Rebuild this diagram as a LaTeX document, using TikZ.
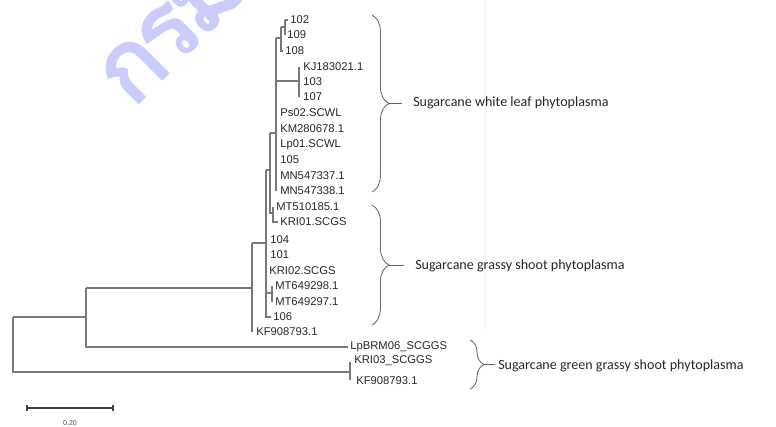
\documentclass[tikz,border=0pt]{standalone}
\usepackage{fontspec}
\setmainfont{Liberation Sans}
\newfontfamily\cladefont{Carlito}
\newfontfamily\thaifont[Script=Thai,LetterSpace=-8]{Loma}
\usetikzlibrary{decorations.pathreplacing}
\definecolor{branchgray}{RGB}{120,120,120}
\definecolor{markblue}{RGB}{204,204,250}
\tikzset{
  branch/.style     = {draw=branchgray, line width=0.8pt},
  tip/.style        = {anchor=west, inner sep=1.4pt, font=\fontsize{8}{9}\selectfont, text=black!85},
  clade brace/.style= {decorate, decoration={brace, amplitude=12pt}, draw=black!60, line width=0.6pt},
  brace tail/.style = {draw=black!60, line width=0.6pt},
  cladelabel/.style = {anchor=west, inner sep=0pt, font=\cladefont\fontsize{10}{12}\selectfont, text=black!85},
  scalebar/.style   = {draw=black!75, line width=0.8pt},
}

\begin{document}
\begin{tikzpicture}[x=0.025cm,y=-0.025cm]
  \useasboundingbox (0,0) rectangle (776,427);

  % watermark
  \begin{scope}
    \clip (0,0) rectangle (776,427);
    \node[anchor=base west, rotate=45, inner sep=0pt, text=markblue,
          font=\thaifont\bfseries\fontsize{72}{72}\selectfont] (mark) at (132,112) {กรม};
  \end{scope}
  \draw[gray!10] (485,0) -- (485,330);

  % tips
  \node[tip] (t102)   at (288,20)  {102};
  \node[tip] (t109)   at (285,35)  {109};
  \node[tip] (t108)   at (283,51)  {108};
  \node[tip] (tKJ)    at (301,67)  {KJ183021.1};
  \node[tip] (t103)   at (301,82)  {103};
  \node[tip] (t107)   at (301,97)  {107};
  \node[tip] (tPs02)  at (278,113) {Ps02.SCWL};
  \node[tip] (tKM)    at (278,129) {KM280678.1};
  \node[tip] (tLp01)  at (278,145) {Lp01.SCWL};
  \node[tip] (t105)   at (278,160) {105};
  \node[tip] (tMN337) at (278,176) {MN547337.1};
  \node[tip] (tMN338) at (278,191) {MN547338.1};
  \node[tip] (tMT510) at (274,207) {MT510185.1};
  \node[tip] (tKRI01) at (278,222) {KRI01.SCGS};
  \node[tip] (t104)   at (268,240) {104};
  \node[tip] (t101)   at (268,255) {101};
  \node[tip] (tKRI02) at (267,271) {KRI02.SCGS};
  \node[tip] (tMT298) at (273,286) {MT649298.1};
  \node[tip] (tMT297) at (273,302) {MT649297.1};
  \node[tip] (t106)   at (271,317) {106};
  \node[tip] (tKF1)   at (254,332) {KF908793.1};
  \node[tip] (tLp06)  at (348,347) {LpBRM06\_SCGGS};
  \node[tip] (tKRI03) at (352,361) {KRI03\_SCGGS};
  \node[tip] (tKF2)   at (354,381) {KF908793.1};

  % internal nodes
  \coordinate (a1)   at (285,27);
  \coordinate (a2)   at (281,38);
  \coordinate (a3)   at (299,81);
  \coordinate (n1)   at (276,133);
  \coordinate (a4)   at (273,213);
  \coordinate (n2)   at (270,170);
  \coordinate (a5)   at (272,293);
  \coordinate (n3)   at (266,243);
  \coordinate (n4)   at (252,288);
  \coordinate (n5)   at (86,317);
  \coordinate (a6)   at (350,372);
  \coordinate (root) at (13,317);

  % branches
  \draw[branch] (a1 |- t102.west) -- (a1 |- t109.west);
  \foreach \t in {t102,t109} \draw[branch] (a1 |- \t.west) -- (\t.west);
  \draw[branch] (a2 |- a1) -- (a2 |- t108.west) -- (t108.west);
  \draw[branch] (a2 |- a1) -- (a1);
  \draw[branch] (a3 |- tKJ.west) -- (a3 |- t107.west);
  \draw[branch] (n1 |- a2) -- (n1 |- tMN338.west);
  \draw[branch] (n1 |- a2) -- (a2);
  \draw[branch] (n1 |- a3) -- (a3);
  \draw[branch] (a4 |- tMT510.west) -- (a4 |- tKRI01.west) -- (tKRI01.west);
  \draw[branch] (n2 |- n1) -- (n2 |- a4) -- (a4);
  \draw[branch] (n2 |- n1) -- (n1);
  \draw[branch] (a5 |- tMT298.west) -- (a5 |- tMT297.west);
  \draw[branch] (n3 |- n2) -- (n3 |- t106.west) -- (t106.west);
  \draw[branch] (n3 |- n2) -- (n2);
  \draw[branch] (n3 |- a5) -- (a5);
  \draw[branch] (n4 |- n3) -- (n4 |- tKF1.west);
  \draw[branch] (n4 |- n3) -- (n3);
  \draw[branch] (n5 |- n4) -- (n4);
  \draw[branch] (n5 |- n4) -- (n5 |- tLp06.west) -- (tLp06.west);
  \draw[branch] (root |- n5) -- (n5);
  \draw[branch] (root |- n5) -- (root |- a6) -- (a6);
  \draw[branch] (350,362) -- (350,380);

  % clade braces
  \coordinate (b1top) at (372,15);
  \coordinate (b1bot) at (372,192);
  \coordinate (b1tip) at (389,103.5);
  \coordinate (b2top) at (372,205);
  \coordinate (b2bot) at (372,325);
  \coordinate (b2tip) at (389,265);
  \coordinate (b3top) at (470,340);
  \coordinate (b3bot) at (470,389);
  \coordinate (b3tip) at (484,364.5);
  \draw[clade brace] (b1top) -- (b1bot);
  \draw[clade brace] (b2top) -- (b2bot);
  \draw[clade brace, decoration={amplitude=10pt}] (b3top) -- (b3bot);
  \node[cladelabel] (scwl)  at (413,103) {Sugarcane white leaf phytoplasma};
  \node[cladelabel] (scgs)  at (415,266) {Sugarcane grassy shoot phytoplasma};
  \node[cladelabel] (scggs) at (498,366) {Sugarcane green grassy shoot phytoplasma};
  \draw[brace tail] (b1tip) -- ++(13,0);
  \draw[brace tail] (b2tip) -- ++(15,0);
  \draw[brace tail] (b3tip) -- ++(11,0);

  % scale bar
  \coordinate (s0) at (27,408);
  \coordinate (s1) at (113,408);
  \draw[scalebar] (s0) -- (s1);
  \draw[scalebar] ([yshift=2pt]s0) -- ([yshift=-2pt]s0);
  \draw[scalebar] ([yshift=2pt]s1) -- ([yshift=-2pt]s1);
  \node[font=\fontsize{5}{6}\selectfont, text=black!70, inner sep=0pt] (scale) at (70,423) {0.20};
\end{tikzpicture}
\end{document}
